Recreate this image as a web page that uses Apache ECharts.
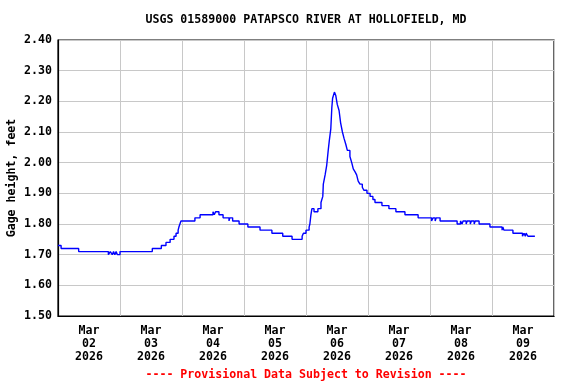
<!DOCTYPE html>
<html>
<head>
<meta charset="utf-8">
<script src="https://cdn.jsdelivr.net/npm/echarts@6/dist/echarts.min.js"></script>
<style>
html,body{margin:0;padding:0;background:#fff;}
#c{width:576px;height:384px;}
</style>
</head>
<body>
<div id="c"></div>
<script>
// Hours since 2026-03-02 00:00 (change points of the 15-minute record)
var hours = [0, 1.2, 8.0, 19.5, 20.25, 21.0, 21.5, 22.0, 22.5, 23.0, 24.0, 36.5, 40.0, 41.8, 43.4, 44.9, 45.7, 46.5, 46.8, 47.2, 47.6, 53.0, 55.0, 60.0, 60.5, 61.0, 62.3, 63.9, 66.2, 66.5, 67.6, 70.1, 73.5, 78.2, 82.8, 87.0, 90.6, 94.5, 95.0, 96.0, 97.2, 97.5, 97.9, 98.3, 99.1, 100.6, 101.8, 102.5, 102.7, 103.4, 104.0, 104.6, 105.0, 105.6, 106.0, 106.3, 107.0, 107.5, 108.1, 108.8, 109.4, 110.1, 110.7, 111.4, 112.0, 113.0, 113.7, 114.3, 115.0, 115.6, 116.2, 116.9, 117.8, 118.4, 119.6, 120.8, 121.9, 122.7, 125.4, 128.1, 130.8, 134.3, 139.4, 144.6, 145.2, 146.0, 146.4, 147.9, 154.5, 155.8, 156.4, 156.8, 158.0, 158.4, 159.6, 160.0, 161.1, 161.5, 163.0, 167.2, 171.9, 172.2, 172.6, 176.1, 179.8, 180.4, 180.9, 181.2, 181.9, 184.6];
// Gage height, feet
var gage = [1.73, 1.72, 1.71, 1.70, 1.71, 1.70, 1.71, 1.70, 1.71, 1.70, 1.71, 1.72, 1.73, 1.74, 1.75, 1.76, 1.77, 1.78, 1.79, 1.80, 1.81, 1.82, 1.83, 1.84, 1.83, 1.84, 1.83, 1.82, 1.81, 1.82, 1.81, 1.80, 1.79, 1.78, 1.77, 1.76, 1.75, 1.76, 1.77, 1.78, 1.79, 1.80, 1.83, 1.85, 1.84, 1.85, 1.87, 1.89, 1.93, 1.96, 1.99, 2.04, 2.07, 2.11, 2.18, 2.21, 2.23, 2.22, 2.19, 2.17, 2.13, 2.10, 2.08, 2.06, 2.04, 2.02, 2.00, 1.98, 1.97, 1.96, 1.94, 1.93, 1.92, 1.91, 1.90, 1.89, 1.88, 1.87, 1.86, 1.85, 1.84, 1.83, 1.82, 1.81, 1.82, 1.81, 1.82, 1.81, 1.80, 1.81, 1.80, 1.81, 1.80, 1.81, 1.80, 1.81, 1.80, 1.81, 1.80, 1.79, 1.78, 1.79, 1.78, 1.77, 1.76, 1.77, 1.76, 1.77, 1.76, 1.76];
var dayLabels = ['Mar\n02\n2026', 'Mar\n03\n2026', 'Mar\n04\n2026', 'Mar\n05\n2026', 'Mar\n06\n2026', 'Mar\n07\n2026', 'Mar\n08\n2026', 'Mar\n09\n2026'];
var yTickLabels = ['1.50', '1.60', '1.70', '1.80', '1.90', '2.00', '2.10', '2.20', '2.30', '2.40'];
var titleText = 'USGS 01589000 PATAPSCO RIVER AT HOLLOFIELD, MD';
var yAxisTitle = 'Gage height, feet';
var footText = '---- Provisional Data Subject to Revision ----';

var FONT = '"DejaVu Sans Mono", "Liberation Mono", monospace';
var data = hours.map(function (h, i) { return [h, gage[i]]; });

var chart = echarts.init(document.getElementById('c'), null, {renderer: 'canvas'});
chart.setOption({
  animation: false,
  backgroundColor: '#fff',
  grid: {left: 58, top: 40, right: 22, bottom: 68, containLabel: false, outerBoundsMode: 'none', show: true, borderColor: '#000', borderWidth: 1.2, backgroundColor: 'transparent'},
  graphic: [
    {type: 'text', x: 306, y: 20, style: {text: titleText, font: 'bold 11.6px ' + FONT, fill: '#000', align: 'center', verticalAlign: 'middle'}},
    {type: 'text', x: 306, y: 375, style: {text: footText, font: 'bold 11.6px ' + FONT, fill: '#ff0000', align: 'center', verticalAlign: 'middle'}}
  ],
  xAxis: [
    {
      type: 'value', min: 0, max: 192, interval: 24,
      axisLine: {show: true, lineStyle: {color: '#000', width: 1.2}},
      axisTick: {show: false},
      axisLabel: {show: false},
      splitLine: {show: true, lineStyle: {color: '#c8c8c8', width: 1}}
    },
    {
      type: 'value', min: 0, max: 192, interval: 12, position: 'bottom',
      axisLine: {show: false}, axisTick: {show: false}, splitLine: {show: false},
      axisLabel: {
        show: true, margin: 8, color: '#000', fontFamily: FONT, fontWeight: 'bold', fontSize: 11.6, lineHeight: 13,
        formatter: function (v) { return (v % 24 === 12) ? dayLabels[(v - 12) / 24] : ''; }
      }
    }
  ],
  yAxis: {
    type: 'value', min: 1.5, max: 2.4, interval: 0.1,
    name: yAxisTitle, nameLocation: 'middle', nameGap: 40, nameMoveOverlap: false,
    nameTextStyle: {color: '#000', fontFamily: FONT, fontWeight: 'bold', fontSize: 11.6},
    axisLine: {show: true, lineStyle: {color: '#000', width: 1.2}},
    axisTick: {show: false},
    axisLabel: {
      margin: 6, color: '#000', fontFamily: FONT, fontWeight: 'bold', fontSize: 11.6,
      formatter: function (v) { return yTickLabels[Math.round((v - 1.5) / 0.1)]; }
    },
    splitLine: {show: true, lineStyle: {color: '#c8c8c8', width: 1}}
  },
  series: [{
    type: 'line', xAxisIndex: 0, step: 'end', data: data,
    showSymbol: false, symbol: 'none',
    lineStyle: {color: '#0000ff', width: 1.4}
  }]
});
</script>
</body>
</html>
